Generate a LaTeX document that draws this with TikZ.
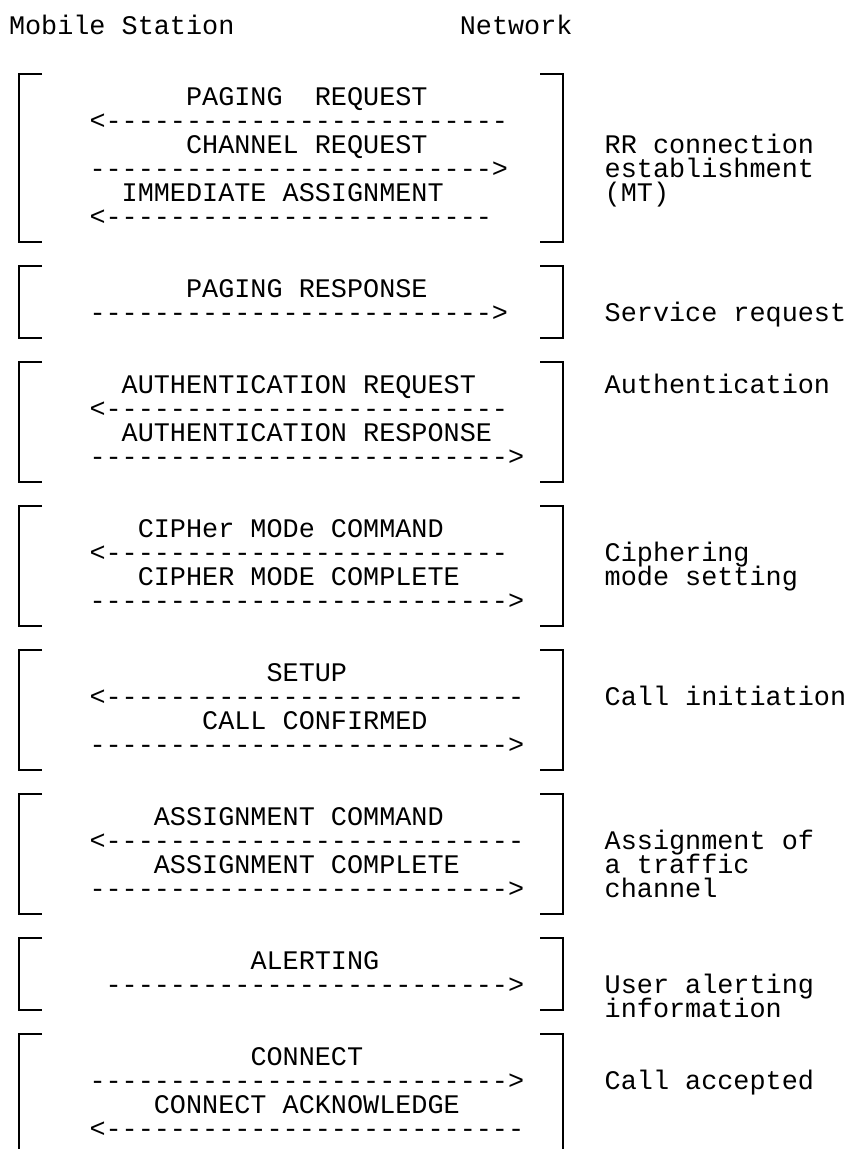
\documentclass[tikz,border=0pt]{standalone}
\usepackage{fontspec}
\setmonofont{Liberation Mono}
\usepackage{tikz}

\begin{document}
\begin{tikzpicture}[
            x=1bp, y=-1bp,
            font=\ttfamily\fontsize{26.83bp}{24bp}\selectfont,
            txt/.style={anchor=base west, inner sep=0pt, outer sep=0pt,
                        text height=15bp, text depth=3bp},
            msg/.style={txt},
            arrtxt/.style={txt},
            note/.style={txt},
            bracket/.style={line width=2bp, black}
        ]
            \useasboundingbox (0,0) rectangle (847,1149);

            \node[txt] (ms) at (9,34) {Mobile Station};
            \node[txt] (nw) at (459.8,34) {Network};

            % RR connection establishment
            \node[msg] (pagreq) at (186.1,105.5) {PAGING\ \ REQUEST};
            \node[arrtxt] (pagreqarr) at (89.5,129.5) {<-------------------------};
            \node[msg] (chanreq) at (186.1,153.5) {CHANNEL REQUEST};
            \node[arrtxt] (chanreqarr) at (89.5,177.5) {------------------------->};
            \node[msg] (immass) at (121.7,201.5) {IMMEDIATE ASSIGNMENT};
            \node[arrtxt] (immassarr) at (89.5,225.5) {<------------------------};
            \node[note] (rra) at (604.7,153.5) {RR connection};
            \node[note] (rrb) at (604.7,177.5) {establishment};
            \node[note] (rrc) at (604.7,201.5) {(MT)};

            % service request
            \node[msg] (pagres) at (186.1,297.5) {PAGING RESPONSE};
            \node[arrtxt] (pagresarr) at (89.5,321.5) {------------------------->};
            \node[note] (srv) at (604.7,321.5) {Service request};

            % authentication
            \node[msg] (authreq) at (121.7,393.5) {AUTHENTICATION REQUEST};
            \node[arrtxt] (authreqarr) at (89.5,417.5) {<-------------------------};
            \node[msg] (authres) at (121.7,441.5) {AUTHENTICATION RESPONSE};
            \node[arrtxt] (authresarr) at (89.5,465.5) {-------------------------->};
            \node[note] (auth) at (604.7,393.5) {Authentication};

            % ciphering
            \node[msg] (ciphcmd) at (137.8,537.5) {CIPHer MODe COMMAND};
            \node[arrtxt] (ciphcmdarr) at (89.5,561.5) {<-------------------------};
            \node[msg] (ciphcpl) at (137.8,585.5) {CIPHER MODE COMPLETE};
            \node[arrtxt] (ciphcplarr) at (89.5,609.5) {-------------------------->};
            \node[note] (cipha) at (604.7,561.5) {Ciphering};
            \node[note] (ciphb) at (604.7,585.5) {mode setting};

            % call initiation
            \node[msg] (setup) at (266.6,681.5) {SETUP};
            \node[arrtxt] (setuparr) at (89.5,705.5) {<--------------------------};
            \node[msg] (callconf) at (202.2,729.5) {CALL CONFIRMED};
            \node[arrtxt] (callconfarr) at (89.5,753.5) {-------------------------->};
            \node[note] (callinit) at (604.7,705.5) {Call initiation};

            % traffic channel
            \node[msg] (asscmd) at (153.9,825.5) {ASSIGNMENT COMMAND};
            \node[arrtxt] (asscmdarr) at (89.5,849.5) {<--------------------------};
            \node[msg] (asscpl) at (153.9,873.5) {ASSIGNMENT COMPLETE};
            \node[arrtxt] (asscplarr) at (89.5,897.5) {-------------------------->};
            \node[note] (tcha) at (604.7,849.5) {Assignment of};
            \node[note] (tchb) at (604.7,873.5) {a traffic};
            \node[note] (tchc) at (604.7,897.5) {channel};

            % alerting
            \node[msg] (alert) at (250.5,969.5) {ALERTING};
            \node[arrtxt] (alertarr) at (105.6,993.5) {------------------------->};
            \node[note] (usra) at (604.7,993.5) {User alerting};
            \node[note] (usrb) at (604.7,1017.5) {information};

            % connect
            \node[msg] (conn) at (250.5,1065.5) {CONNECT};
            \node[arrtxt] (connarr) at (89.5,1089.5) {-------------------------->};
            \node[msg] (connack) at (153.9,1113.5) {CONNECT ACKNOWLEDGE};
            \node[arrtxt] (connackarr) at (89.5,1137.5) {<--------------------------};
            \node[note] (callacc) at (604.7,1089.5) {Call accepted};

            % brackets
            \foreach \ya/\yb in {74/242, 266/338, 362/482, 506/626, 650/770, 794/914, 938/1010} {
                \draw[bracket] (42,\ya) -- (19,\ya) -- (19,\yb) -- (42,\yb);
                \draw[bracket] (540,\ya) -- (563,\ya) -- (563,\yb) -- (540,\yb);
            }
            \draw[bracket] (42,1034) -- (19,1034) -- (19,1149);
            \draw[bracket] (540,1034) -- (563,1034) -- (563,1149);
        \end{tikzpicture}
\end{document}
